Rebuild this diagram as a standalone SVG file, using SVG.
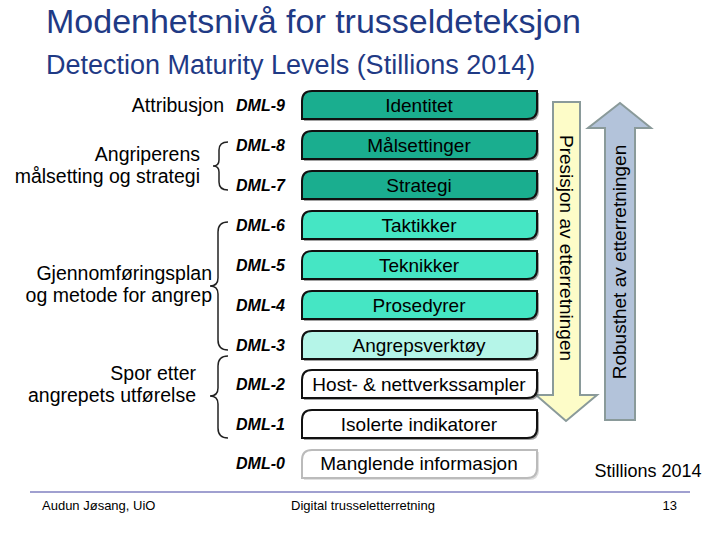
<svg xmlns="http://www.w3.org/2000/svg" width="720" height="540" viewBox="0 0 720 540">
<style>
text{font-family:"Liberation Sans",Arial,sans-serif}
.t{font-size:19px;text-anchor:middle}
.d{font-size:16px;font-weight:bold;font-style:italic}
.l{font-size:19.5px;text-anchor:end}
.box{stroke:#111;stroke-width:2}
.br{fill:none;stroke:#222;stroke-width:1.5}
</style>
<defs>
<path id="leaf" d="M10,0 H235 V18 Q235,28 225,28 H0 V10 Q0,0 10,0 Z"/>
</defs>
<rect width="720" height="540" fill="#fff"/>
<text x="46" y="33" font-size="34" fill="#1f3a85">Modenhetsnivå for trusseldeteksjon</text>
<text x="46" y="74" font-size="27" fill="#1f3a85">Detection Maturity Levels (Stillions 2014)</text>

<g id="labels">
<text x="224" y="112" class="l">Attribusjon</text>
<text x="200" y="161" class="l">Angriperens</text>
<text x="200" y="183" class="l">målsetting og strategi</text>
<text x="212" y="280" class="l">Gjennomføringsplan</text>
<text x="212" y="302" class="l">og metode for angrep</text>
<text x="196" y="380" class="l">Spor etter</text>
<text x="196" y="402" class="l">angrepets utførelse</text>
</g>
<g id="braces">
<path class="br" d="M228,142 Q219,142 219,150 V160 Q219,166 213,166 Q219,166 219,172 V182 Q219,190 228,190"/>
<path class="br" d="M228,222 Q218,222 218,232 V278 Q218,286 210,286 Q218,286 218,294 V340 Q218,350 228,350"/>
<path class="br" d="M228,356 Q218,356 218,366 V388 Q218,396 210,396 Q218,396 218,404 V428 Q218,438 228,438"/>
</g>

<g id="arrows">
<path d="M553,102 H580 V395 H597 L566,421 L536,395 H553 Z" fill="#fdfcc8" stroke="#8a9a9a" stroke-width="2"/>
<path d="M605,420 V128 H588 L620,103 L651,128 H635 V420 Z" fill="#b3c3da" stroke="#8a9a9a" stroke-width="2"/>
<text transform="translate(560,248) rotate(90)" class="t" font-size="18">Presisjon av etterretningen</text>
<text transform="translate(626,262) rotate(-90)" class="t" font-size="18">Robusthet av etterretningen</text>
</g>

<g id="levels">
<g id="dml9"><text x="236" y="111" class="d">DML-9</text><use href="#leaf" x="304" y="93" fill="#444" opacity="0.5"/><use href="#leaf" x="302" y="91" class="box" fill="#1aae8f"/><text x="419" y="112" class="t">Identitet</text></g>
<g id="dml8"><text x="236" y="151" class="d">DML-8</text><use href="#leaf" x="304" y="133" fill="#444" opacity="0.5"/><use href="#leaf" x="302" y="131" class="box" fill="#1aae8f"/><text x="419" y="152" class="t">Målsettinger</text></g>
<g id="dml7"><text x="236" y="191" class="d">DML-7</text><use href="#leaf" x="304" y="173" fill="#444" opacity="0.5"/><use href="#leaf" x="302" y="171" class="box" fill="#1aae8f"/><text x="419" y="192" class="t">Strategi</text></g>
<g id="dml6"><text x="236" y="231" class="d">DML-6</text><use href="#leaf" x="304" y="213" fill="#444" opacity="0.5"/><use href="#leaf" x="302" y="211" class="box" fill="#45e6c4"/><text x="419" y="232" class="t">Taktikker</text></g>
<g id="dml5"><text x="236" y="271" class="d">DML-5</text><use href="#leaf" x="304" y="253" fill="#444" opacity="0.5"/><use href="#leaf" x="302" y="251" class="box" fill="#45e6c4"/><text x="419" y="272" class="t">Teknikker</text></g>
<g id="dml4"><text x="236" y="311" class="d">DML-4</text><use href="#leaf" x="304" y="293" fill="#444" opacity="0.5"/><use href="#leaf" x="302" y="291" class="box" fill="#45e6c4"/><text x="419" y="312" class="t">Prosedyrer</text></g>
<g id="dml3"><text x="236" y="351" class="d">DML-3</text><use href="#leaf" x="304" y="333" fill="#444" opacity="0.5"/><use href="#leaf" x="302" y="331" class="box" fill="#b5f5e8"/><text x="419" y="352" class="t">Angrepsverktøy</text></g>
<g id="dml2"><text x="236" y="390" class="d">DML-2</text><use href="#leaf" x="304" y="372" fill="#444" opacity="0.5"/><use href="#leaf" x="302" y="370" class="box" fill="#fff"/><text x="419" y="391" class="t">Host- &amp; nettverkssampler</text></g>
<g id="dml1"><text x="236" y="430" class="d">DML-1</text><use href="#leaf" x="304" y="412" fill="#444" opacity="0.5"/><use href="#leaf" x="302" y="410" class="box" fill="#fff"/><text x="419" y="431" class="t">Isolerte indikatorer</text></g>
<g id="dml0"><text x="236" y="469" class="d">DML-0</text><use href="#leaf" x="304" y="452" fill="#ccc" opacity="0.6"/><use href="#leaf" x="302" y="450" fill="#fff" stroke="#bbb" stroke-width="2"/><text x="419" y="470" class="t">Manglende informasjon</text></g>
</g>

<text x="648" y="477" font-size="18" text-anchor="middle">Stillions 2014</text>
<line x1="30" y1="492" x2="690" y2="492" stroke="#8080c0" stroke-width="1.5"/>
<text x="42" y="510" font-size="13">Audun Jøsang, UiO</text>
<text x="363" y="510" font-size="13" text-anchor="middle">Digital trusseletterretning</text>
<text x="677" y="510" font-size="13" text-anchor="end">13</text>
</svg>
